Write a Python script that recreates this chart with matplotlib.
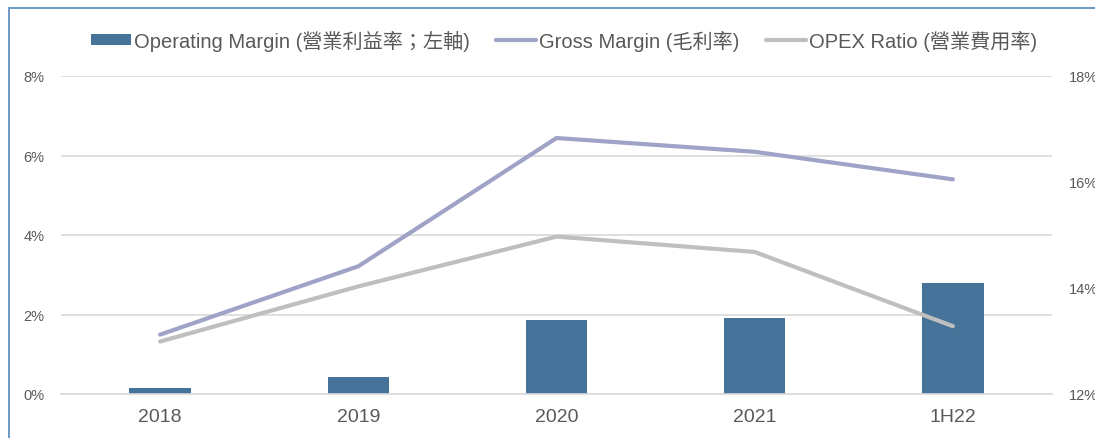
import numpy as np
import matplotlib
matplotlib.use('Agg')
import matplotlib.pyplot as plt
from matplotlib.patches import Rectangle

# fonts: latin in Liberation Sans, CJK falls back to Noto Sans CJK TC
plt.rcParams['font.family'] = ['Liberation Sans', 'Noto Sans CJK TC', 'DejaVu Sans']

# data
periods = ['2018', '2019', '2020', '2021', '1H22']
op_margin = [0.14, 0.42, 1.86, 1.90, 2.78]        # % (left axis)
gross_margin = [13.12, 14.41, 16.83, 16.57, 16.05]  # % (right axis)
opex_ratio = [12.99, 14.03, 14.97, 14.68, 13.28]    # % (right axis)
left_ticks = [0, 2, 4, 6, 8]
right_ticks = [12, 14, 16, 18]

# colours
BAR = '#467399'
GROSS = '#9EA3C7'
OPEX = '#BFBFBF'
GRID = '#D9D9D9'
TXT = '#595959'

fig = plt.figure(figsize=(10.95, 4.39), dpi=100)
ax = fig.add_axes([61/1095, 1 - 395/439, (1052 - 61)/1095, (395 - 77)/439])
ax2 = ax.twinx()

x = np.arange(len(periods))
bars = ax.bar(x, op_margin, width=0.31, color=BAR, zorder=2,
              label='Operating Margin (營業利益率；左軸)')
ax.set_xlim(-0.5, len(periods) - 0.5)
ax.set_ylim(0, 8)
ax.set_yticks(left_ticks)
ax.set_yticklabels([f'{v}%' for v in left_ticks])
ax.set_xticks(x)
ax.set_xticklabels(periods)
ax.grid(axis='y', color=GRID, linewidth=1.2, zorder=0)
ax.set_axisbelow(True)
ax.tick_params(axis='x', length=0, labelsize=14, labelcolor=TXT, pad=10)
ax.tick_params(axis='y', length=0, labelsize=10.5, labelcolor=TXT, pad=12)

l1, = ax2.plot(x, gross_margin, color=GROSS, linewidth=3, solid_capstyle='round',
               label='Gross Margin (毛利率)', zorder=3)
l2, = ax2.plot(x, opex_ratio, color=OPEX, linewidth=3, solid_capstyle='round',
               label='OPEX Ratio (營業費用率)', zorder=3)
ax2.set_ylim(12, 18)
ax2.set_yticks(right_ticks)
ax2.set_yticklabels([f'{v}%' for v in right_ticks])
ax2.tick_params(axis='y', length=0, labelsize=10.5, labelcolor=TXT, pad=12)

for a in (ax, ax2):
    for s in a.spines.values():
        s.set_visible(False)
ax.spines['bottom'].set_visible(True)
ax.spines['bottom'].set_color(GRID)
ax.spines['bottom'].set_linewidth(1.2)

leg = ax.legend([bars, l1, l2],
                [bars.get_label(), l1.get_label(), l2.get_label()],
                loc='center', bbox_to_anchor=(564/1095, 1 - 41/439),
                bbox_transform=fig.transFigure, ncol=3, frameon=False,
                fontsize=14.5, handlelength=2.0, handleheight=0.42,
                handletextpad=0.15, columnspacing=1.3, labelcolor=TXT)

# figure frame (only the left and top edges are inside the crop)
fig.patches.append(Rectangle((8.5/1095, -0.1), 1.2, 1 - 8.5/439 + 0.1,
                             transform=fig.transFigure, fill=False,
                             edgecolor='#6A9AC3', linewidth=1.4, zorder=10))

fig.savefig('out.png', dpi=100)
